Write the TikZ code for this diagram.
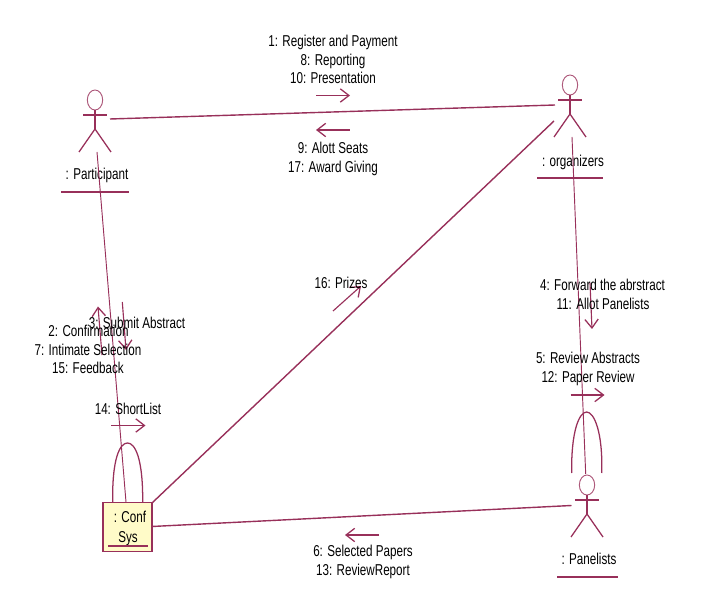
\documentclass[tikz,border=0pt]{standalone}
\usepackage{fontspec}
\setmainfont[FakeStretch=0.74]{Liberation Sans}
\usetikzlibrary{arrows.meta,shapes.geometric}
\definecolor{umlline}{HTML}{98305A}
\definecolor{umlfill}{HTML}{FFFBC8}
\tikzset{
  x=0.75pt,y=-0.75pt,
  conn/.style={draw=umlline,line width=1.05pt},
  thinconn/.style={draw=umlline,line width=0.7pt},
  loopline/.style={draw=umlline,line width=0.95pt},
  msg/.style={draw=umlline,line width=0.85pt,-{Straight Barb[length=6.5pt,width=10pt,line width=0.95pt]}},
  figline/.style={draw=umlline,line width=0.95pt},
  headshape/.style={draw=umlline!80,line width=0.7pt,ellipse,minimum width=11.5pt,minimum height=15pt,inner sep=0pt},
  lbl/.style={font=\fontsize{11.8pt}{14.2pt}\selectfont,text=black,align=center,inner sep=0pt,anchor=base,yshift=-4pt},
  objbox/.style={draw=umlline,line width=1.05pt,fill=umlfill,minimum width=36.8pt,minimum height=37pt,inner sep=0pt},
}
\newcommand{\actorfig}[3]{% name, head x, head y
  \node[headshape] (#1head) at (#2,#3) {};
  \coordinate (#1neck) at (#2,#3+10);
  \coordinate (#1hip) at (#2,#3+29);
  \coordinate (#1armL) at (#2-12,#3+15);
  \coordinate (#1armR) at (#2+12,#3+15);
  \coordinate (#1legL) at (#2-16,#3+52);
  \coordinate (#1legR) at (#2+16,#3+52);
  \draw[figline] (#1head.south) -- (#1hip);
  \draw[figline] (#1armL) -- (#1armR);
  \draw[figline] (#1legL) -- (#1hip) -- (#1legR);
}
\begin{document}
\begin{tikzpicture}
\useasboundingbox (0,0) rectangle (715,602);
\actorfig{part}{95}{100}
\actorfig{org}{570}{85}
\actorfig{pan}{587}{485}

\node[lbl] (partlbl) at (97,174) {: Participant};
\node[lbl] (orglbl) at (573,161) {: organizers};
\node[lbl] (panlbl) at (589,559) {: Panelists};
\coordinate (pu1) at (61,192); \coordinate (pu2) at (129,192);
\coordinate (ou1) at (537,178); \coordinate (ou2) at (603,178);
\coordinate (au1) at (557,577); \coordinate (au2) at (618,577);
\draw[conn] (pu1) -- (pu2);
\draw[conn] (ou1) -- (ou2);
\draw[conn] (au1) -- (au2);

\node[objbox] (conf) at (127.5,527) {};
\node[lbl] (conflbl1) at (130,517) {: Conf};
\node[lbl] (conflbl2) at (128,537) {Sys};
\coordinate (cu1) at (108,546); \coordinate (cu2) at (148,546);
\draw[conn] (cu1) -- (cu2);

% free ends of links
\coordinate (partE) at (110,119);
\coordinate (orgW) at (555,105);
\coordinate (partS) at (97,152);
\coordinate (confN) at (126,502);
\coordinate (confNE) at (152,503);
\coordinate (orgSW) at (554,121);
\coordinate (confE) at (152,526.5);
\coordinate (panW) at (571.5,505.5);
\coordinate (orgS) at (572,137);
\coordinate (panN) at (585.7,474);

\draw[conn] (partE) -- (orgW);
\draw[thinconn] (partS) -- (confN);
\draw[conn] (confNE) -- (orgSW);
\draw[conn] (confE) -- (panW);
\draw[thinconn] (orgS) -- (panN);

% self loops
\coordinate (cl1) at (112.7,502); \coordinate (cl2) at (142.7,502);
\coordinate (pl1) at (571.7,473); \coordinate (pl2) at (601.7,473);
\draw[loopline] (cl1) .. controls (112,458) and (120,443) .. (127.5,443) .. controls (135,443) and (143,458) .. (cl2);
\draw[loopline] (pl1) .. controls (571,432) and (579,412) .. (586.7,412) .. controls (594,412) and (603,432) .. (pl2);

% message arrows
\coordinate (m1a) at (316,95.5); \coordinate (m1b) at (350,95.5);
\coordinate (m9a) at (349.5,130); \coordinate (m9b) at (316,130);
\coordinate (m3a) at (122.3,302); \coordinate (m3b) at (126,350);
\coordinate (m2a) at (102,355); \coordinate (m2b) at (98,306.5);
\coordinate (m14a) at (111,425.5); \coordinate (m14b) at (145.5,425.5);
\coordinate (m16a) at (333,311); \coordinate (m16b) at (361,286);
\coordinate (m4a) at (590,283); \coordinate (m4b) at (592,329);
\coordinate (m5a) at (570.5,395); \coordinate (m5b) at (604.5,395);
\coordinate (m6a) at (379,535); \coordinate (m6b) at (345,535);
\draw[msg] (m1a) -- (m1b);
\draw[msg] (m9a) -- (m9b);
\draw[msg] (m3a) -- (m3b);
\draw[msg] (m2a) -- (m2b);
\draw[msg] (m14a) -- (m14b);
\draw[msg] (m16a) -- (m16b);
\draw[msg] (m4a) -- (m4b);
\draw[msg] (m5a) -- (m5b);
\draw[msg] (m6a) -- (m6b);

% message labels
\node[lbl] (t1) at (333,41) {1: Register and Payment};
\node[lbl] (t8) at (333,60) {8: Reporting};
\node[lbl] (t10) at (333,78) {10: Presentation};
\node[lbl] (t9) at (333,148) {9: Alott Seats};
\node[lbl] (t17) at (333,167) {17: Award Giving};
\node[lbl] (t16) at (341,283) {16: Prizes};
\node[lbl] (t3) at (137,323) {3: Submit Abstract};
\node[lbl] (t2) at (88.5,331) {2: Confirmation};
\node[lbl] (t7) at (88,350) {7: Intimate Selection};
\node[lbl] (t15) at (88,368) {15: Feedback};
\node[lbl] (t14) at (128,409) {14: ShortList};
\node[lbl] (t4) at (602.5,285) {4: Forward the abrstract};
\node[lbl] (t11) at (603,304) {11: Allot Panelists};
\node[lbl] (t5) at (588,358) {5: Review Abstracts};
\node[lbl] (t12) at (588,377) {12: Paper Review};
\node[lbl] (t6) at (363,551) {6: Selected Papers};
\node[lbl] (t13) at (363,570) {13: ReviewReport};
\end{tikzpicture}
\end{document}
